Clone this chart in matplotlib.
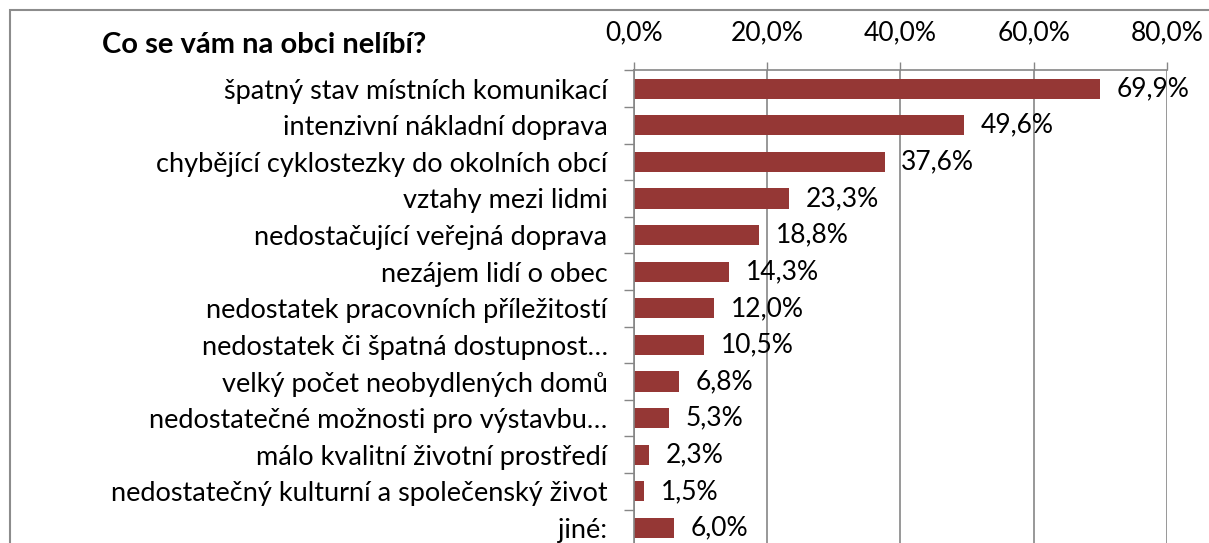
import numpy as np
import matplotlib.pyplot as plt
from matplotlib.patches import Rectangle
from matplotlib.ticker import FixedLocator

categories = [
    "špatný stav místních komunikací",
    "intenzivní nákladní doprava",
    "chybějící cyklostezky do okolních obcí",
    "vztahy mezi lidmi",
    "nedostačující veřejná doprava",
    "nezájem lidí o obec",
    "nedostatek pracovních příležitostí",
    "nedostatek či špatná dostupnost…",
    "velký počet neobydlených domů",
    "nedostatečné možnosti pro výstavbu…",
    "málo kvalitní životní prostředí",
    "nedostatečný kulturní a společenský život",
    "jiné:",
]
values = [69.9, 49.6, 37.6, 23.3, 18.8, 14.3, 12.0, 10.5, 6.8, 5.3, 2.3, 1.5, 6.0]
xticks = [0, 20, 40, 60, 80]

plt.rcParams['font.family'] = ['Lato', 'DejaVu Sans']
bar_color = '#953735'
grid_color = '#868686'

fig = plt.figure(figsize=(12.09, 5.43), dpi=100)

# frame around the chart
fig.patches.append(Rectangle((10/1209, -0.1), 1.2, 0.9816 + 0.1, transform=fig.transFigure,
                             fill=False, edgecolor='#8c8c8c', linewidth=1.5))

ax = fig.add_axes([634/1209, -0.0061, 533/1209, 0.8766])
n = len(values)
y = np.arange(n)
ax.barh(y, values, height=0.55, color=bar_color, zorder=2)
ax.set_ylim(n - 0.5, -0.5)
ax.set_xlim(0, 80)

for yi, v in zip(y, values):
    ax.annotate(f"{v:.1f}%".replace('.', ','), (v, yi), xytext=(12, 0),
                textcoords='offset points', va='center', ha='left', fontsize=19, zorder=3)

ax.xaxis.tick_top()
ax.set_xticks(xticks)
ax.set_xticklabels([f"{t:.1f}%".replace('.', ',') for t in xticks], fontsize=19)
ax.tick_params(axis='x', length=6, width=1, color=grid_color, pad=12)
ax.grid(axis='x', color=grid_color, linewidth=1.2, zorder=0)

ax.set_yticks(y)
ax.set_yticklabels(categories, fontsize=19.5)
ax.tick_params(axis='y', which='major', length=0, pad=19)
ax.yaxis.set_minor_locator(FixedLocator(np.arange(-0.5, n, 1)))
ax.tick_params(axis='y', which='minor', length=7, width=1, color=grid_color)

for s in ['right', 'bottom']:
    ax.spines[s].set_visible(False)
for s in ['left', 'top']:
    ax.spines[s].set_color(grid_color)
    ax.spines[s].set_linewidth(1.2)

fig.text(102/1209, 1 - 45/543, "Co se vám na obci nelíbí?", fontsize=21,
         fontweight='bold', va='center', ha='left')

fig.savefig('out.png', dpi=100)
